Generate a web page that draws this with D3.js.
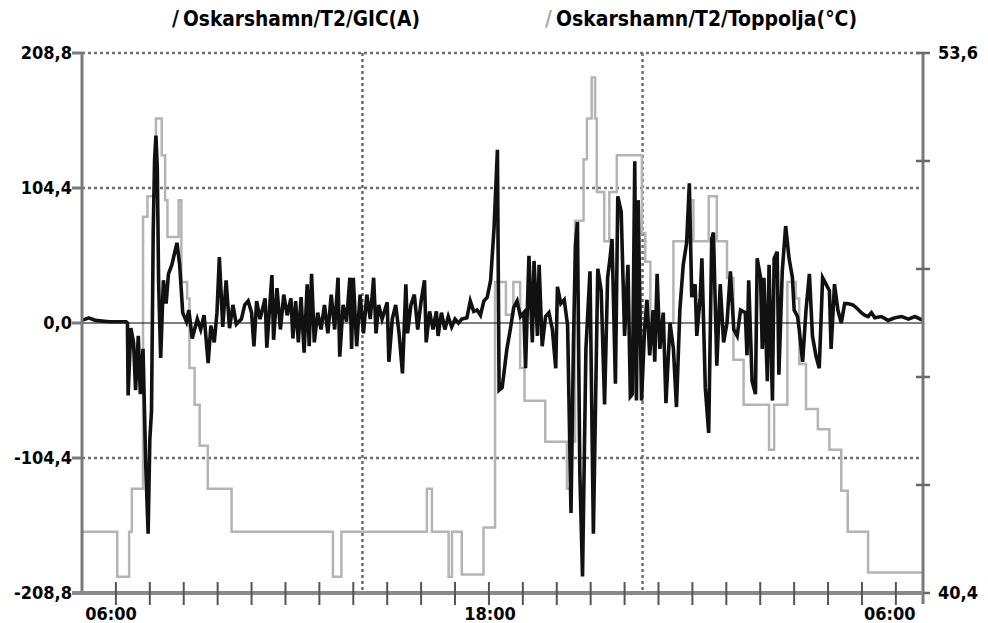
<!DOCTYPE html>
<head>
<meta charset="utf-8">
<style>
body { margin: 0; background: #fff; }
text { font-family: "DejaVu Sans Condensed", "DejaVu Sans", sans-serif; font-weight: bold; fill: #000; }
</style>
</head>
<body>
<script src="https://d3js.org/d3.v7.min.js"></script>
<script>

// legend names
var seriesNames = ["/Oskarshamn/T2/GIC(A)", "/Oskarshamn/T2/Toppolja(\u00b0C)"];

// GIC (A), hours after 06:00
var gicHours = [0,0.2,0.4,0.8,1.3,1.34,1.36,1.44,1.52,1.58,1.66,1.72,1.80,1.88,1.95,2.00,2.05,2.10,2.14,2.18,2.22,2.26,2.32,2.40,2.48,2.55,2.65,2.80,2.88,2.97,3.08,3.15,3.25,3.40,3.50,3.60,3.72,3.80,3.90,3.98,4.05,4.15,4.25,4.35,4.45,4.55,4.70,4.80,4.90,5.00,5.07,5.15,5.25,5.40,5.45,5.60,5.65,5.75,5.85,5.95,6.05,
  6.16,6.22,6.30,6.38,6.46,6.55,6.64,6.70,6.77,6.85,6.95,7.05,7.15,7.25,7.35,7.45,7.55,7.60,7.70,7.80,7.90,7.95,8.00,8.10,8.20,8.30,8.40,8.50,8.60,8.67,8.75,8.85,9.00,9.05,9.15,9.25,9.35,9.45,9.55,9.60,9.70,9.80,9.90,10.00,10.10,10.15,10.25,10.35,10.45,10.50,10.60,10.70,10.80,10.90,11.00,11.10,11.20,11.35,11.45,11.55,11.65,11.75,11.85,11.95,12.05,12.15,12.25,12.30,
  12.39,12.53,12.63,12.73,12.83,12.93,13.03,13.08,13.18,13.28,13.33,13.43,13.48,13.57,13.67,13.77,13.87,13.97,14.02,14.12,14.22,14.32,14.42,14.49,14.55,14.61,14.68,14.76,14.86,14.98,15.08,15.21,15.31,15.41,15.50,15.57,15.63,15.73,15.80,15.90,16.00,16.10,16.17,16.23,16.30,16.35,16.40,16.50,16.59,16.66,16.74,16.84,16.89,16.96,17.04,17.14,17.22,17.34,17.44,17.53,17.63,17.73,17.83,17.91,17.98,18.08,18.13,18.23,18.28,18.38,18.48,18.57,
  18.62,18.72,18.82,18.92,19.02,19.12,19.22,19.32,19.42,19.56,19.61,19.66,19.76,19.86,19.91,20.01,20.06,20.11,20.21,20.26,20.36,20.41,20.50,20.55,20.65,20.75,20.85,20.95,21.00,21.10,21.15,21.25,21.35,21.45,21.54,21.64,21.74,21.84,21.94,22.04,22.09,22.19,22.29,22.39,22.49,22.58,22.73,22.83,22.98,23.08,23.18,23.28,23.38,23.57,23.77,23.97,24.17,24.37,24.56,24.8];
var gicValues = [2,4,2,1,1,0,-56,-4,-15,-52,-10,-55,-20,-110,-163,-90,-68,70,126,145,120,30,-27,33,15,38,45,62,45,8,1,10,-12,3,-5,6,-31,-2,-15,8,51,-3,33,-4,14,-1,3,14,17,8,-18,17,3,19,-19,37,-13,27,-5,22,6,
  19,-12,17,-15,20,-23,30,-18,38,-15,8,-5,14,-8,22,-5,35,-26,14,1,35,-20,35,-18,22,-8,22,3,35,-8,14,3,16,-30,3,14,-8,-39,30,-8,14,22,-5,17,33,-15,9,-5,9,-10,8,-5,5,-3,3,0,3,4,17,9,10,6,17,20,33,73,134,-52,
  -50,-20,-5,12,17,5,8,-35,52,-15,48,-10,45,-18,5,8,-5,-35,28,15,18,-2,-147,-20,60,78,-115,-196,-20,40,-163,42,25,-63,35,50,65,-47,98,86,-10,45,-57,-55,125,-60,95,-60,-5,18,-25,10,-30,38,-20,8,-62,0,-20,-65,10,45,62,108,20,30,-10,20,50,-50,-85,65,
  70,-33,30,-15,0,40,-5,-10,10,8,-25,33,-45,-55,50,35,-20,35,-45,45,-60,50,55,-40,40,75,50,35,10,5,-5,-30,10,38,-10,-25,-35,35,30,25,-20,30,10,0,15,15,14,12,8,6,5,8,4,5,2,4,5,3,5,2];

// top-oil temperature (deg C), step values
var tempHours = [0,1.04,1.39,1.47,1.80,1.93,2.18,2.35,2.45,2.52,2.85,2.93,3.10,3.17,3.32,3.47,3.71,4.41,7.40,7.65,10.17,10.32,10.81,10.91,11.20,11.84,12.18,12.50,12.72,12.92,13.05,13.66,14.30,14.40,14.54,14.79,14.89,15.03,15.13,15.18,15.40,15.55,15.77,16.51,16.61,16.76,17.44,17.94,18.03,18.48,18.72,19.02,19.21,19.51,20.26,20.41,20.80,21.05,21.15,21.35,21.70,22.04,22.39,22.58,23.18,24.8];
var tempValues = [41.9,40.8,41.9,42.95,49.6,50.1,52.0,51.1,50.0,49.1,50.0,48.0,47.6,45.9,45.0,44.0,42.95,41.9,40.8,41.9,42.95,41.9,40.8,41.9,40.85,42.0,48.0,47.2,48.0,45.9,45.1,44.1,42.95,44.1,49.5,51.0,52.0,53.0,52.0,50.2,49.0,50.2,51.1,49.2,48.5,47.0,49.0,50.0,49.0,50.1,49.0,48.1,46.1,45.0,43.9,45.0,48.0,47.6,46.0,44.9,44.4,43.9,42.9,41.9,40.9,40.9];

var leftTicks = [-208.8, -104.4, 0, 104.4, 208.8];
var rightTicks = [40.4, 43.04, 45.68, 48.32, 50.96, 53.6];
var rightLabels = [40.4, 53.6];
var hourTicks = [1,2,3,4,5,6,7,8,9,10,11,12,13,14,15,16,17,18,19,20,21,22,23,24];
var timeLabels = [{h: 0, text: "06:00"}, {h: 12, text: "18:00"}, {h: 24, text: "06:00"}];
var vGridHours = [8.27, 16.53];

var W = 988, H = 623;
var margin = {top: 53, right: 65, bottom: 30, left: 82};

var x = d3.scaleLinear().domain([0, 24.8]).range([margin.left, W - margin.right]);
var y = d3.scaleLinear().domain([-208.8, 208.8]).range([H - margin.bottom, margin.top]);
var y2 = d3.scaleLinear().domain([40.4, 53.6]).range([H - margin.bottom, margin.top]);
var fmt = function(v) { return d3.format(".1f")(v).replace(".", ",").replace("\u2212", "-"); };

var svg = d3.select("body").append("svg")
    .attr("width", W)
    .attr("height", H);

var x0 = x.range()[0], x1 = x.range()[1];
var yTop = y.range()[1], yBot = y.range()[0];

// dotted grid
svg.selectAll(".hgrid")
    .data([104.4, -104.4, 208.8])
  .enter().append("line")
    .attr("x1", x0).attr("x2", x1)
    .attr("y1", function(d) { return y(d); })
    .attr("y2", function(d) { return y(d); })
    .style("stroke", "#6e6e6e")
    .style("stroke-width", 2.5)
    .style("stroke-dasharray", "3,3");

svg.selectAll(".vgrid")
    .data(vGridHours)
  .enter().append("line")
    .attr("x1", function(d) { return x(d); })
    .attr("x2", function(d) { return x(d); })
    .attr("y1", yTop).attr("y2", yBot)
    .style("stroke", "#6e6e6e")
    .style("stroke-width", 2.5)
    .style("stroke-dasharray", "3,3");

// temperature (grey steps)
var tempLine = d3.line()
    .x(function(d, i) { return x(tempHours[i]); })
    .y(function(d) { return y2(d); })
    .curve(d3.curveStepAfter);

svg.append("path")
    .datum(tempValues)
    .attr("d", tempLine)
    .style("fill", "none")
    .style("stroke", "#b4b4b4")
    .style("stroke-width", 2.5);

// zero line
svg.append("line")
    .attr("x1", x0).attr("x2", x1)
    .attr("y1", y(0)).attr("y2", y(0))
    .style("stroke", "#000")
    .style("stroke-width", 1.2);

// GIC (black)
var gicLine = d3.line()
    .x(function(d, i) { return x(gicHours[i]); })
    .y(function(d) { return y(d); });

svg.append("path")
    .datum(gicValues)
    .attr("d", gicLine)
    .style("fill", "none")
    .style("stroke", "#111")
    .style("stroke-width", 3.6)
    .style("stroke-linejoin", "miter");

// left axis
svg.append("line")
    .attr("x1", x0).attr("x2", x0)
    .attr("y1", yTop).attr("y2", yBot)
    .style("stroke", "#7a7a7a").style("stroke-width", 3);
svg.selectAll(".ltick")
    .data(leftTicks)
  .enter().append("line")
    .attr("x1", x0 - 10).attr("x2", x0)
    .attr("y1", function(d) { return y(d); })
    .attr("y2", function(d) { return y(d); })
    .style("stroke", "#7a7a7a").style("stroke-width", 3);
svg.selectAll(".llabel")
    .data(leftTicks)
  .enter().append("text")
    .attr("x", x0 - 10)
    .attr("y", function(d) { return y(d) + 6; })
    .attr("text-anchor", "end")
    .style("font-size", "18px")
    .text(fmt);

// right axis
svg.append("line")
    .attr("x1", x1).attr("x2", x1)
    .attr("y1", yTop).attr("y2", yBot + 11)
    .style("stroke", "#7a7a7a").style("stroke-width", 3);
svg.selectAll(".rtick")
    .data(rightTicks)
  .enter().append("line")
    .attr("x1", x1 - 7).attr("x2", x1 + 7)
    .attr("y1", function(d) { return y2(d); })
    .attr("y2", function(d) { return y2(d); })
    .style("stroke", "#6a6a6a").style("stroke-width", 2.5);
svg.selectAll(".rlabel")
    .data(rightLabels)
  .enter().append("text")
    .attr("x", x1 + 15)
    .attr("y", function(d) { return y2(d) + 6; })
    .style("font-size", "18px")
    .text(fmt);

// bottom axis
svg.append("line")
    .attr("x1", x0 - 10).attr("x2", x1)
    .attr("y1", yBot).attr("y2", yBot)
    .style("stroke", "#8a8a8a").style("stroke-width", 4);
svg.selectAll(".btick")
    .data(hourTicks)
  .enter().append("line")
    .attr("x1", function(d) { return x(d); })
    .attr("x2", function(d) { return x(d); })
    .attr("y1", yBot - 11).attr("y2", yBot + 12)
    .style("stroke", "#555").style("stroke-width", 2);
svg.selectAll(".blabel")
    .data(timeLabels)
  .enter().append("text")
    .attr("x", function(d, i) { return x(d.h) + [29, 1, -6][i]; })
    .attr("y", yBot + 27)
    .attr("text-anchor", "middle")
    .style("font-size", "18px")
    .text(function(d) { return d.text; });

// legend
var legendX = [172, 545];
var legendW = [248, 312];
var legendCol = ["#000", "#a8a8a8"];
seriesNames.forEach(function(name, i) {
  svg.append("text")
      .attr("x", legendX[i])
      .attr("y", 26)
      .style("font-size", "21px")
      .style("fill", legendCol[i])
      .text("/");
  svg.append("text")
      .attr("x", legendX[i] + 11)
      .attr("y", 26)
      .attr("textLength", legendW[i] - 11)
      .attr("lengthAdjust", "spacingAndGlyphs")
      .style("font-size", "21px")
      .text(name.slice(1));
});

</script>
</body>
